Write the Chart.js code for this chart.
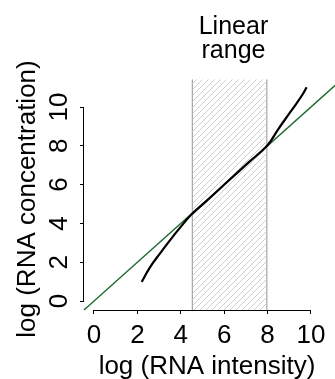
<!DOCTYPE html>
<html>
<head>
<meta charset="utf-8">
<script src="https://cdn.jsdelivr.net/npm/chart.js@4.4.1/dist/chart.umd.min.js"></script>
<style>
html,body{margin:0;padding:0;background:#fff;}
#wrap{width:335px;height:379px;position:relative;}
</style>
</head>
<body>
<div id="wrap"><canvas id="c"></canvas></div>
<script>
// ---- data ----
const xTicks = [0, 2, 4, 6, 8, 10];
const yTicks = [0, 2, 4, 6, 8, 10];
const curveX = [2.2, 2.58, 3.04, 3.5, 3.96, 4.5, 5.18, 6.16, 7.14, 8.0, 8.49, 8.95, 9.34, 9.65, 9.8];
const curveY = [0.99, 1.74, 2.45, 3.13, 3.77, 4.47, 5.15, 6.16, 7.16, 8.03, 8.85, 9.58, 10.19, 10.71, 11.02];
const refLineX = [-0.46, 11.3];
const refLineY = [-0.46, 11.3];
const rangeX = [4.5, 8];
const rangeY = [-0.46, 11.43];
const rangeLabel = ['Linear', 'range'];
const rangeLabelX = 6.43;
const xTitle = 'log (RNA intensity)';
const yTitle = 'log (RNA concentration)';
const xLimits = [-0.46, 10.88];
const yLimits = [-0.46, 10.98];

const FONT = 'Liberation Sans, Arial, Helvetica, sans-serif';

function hatchPattern() {
  const c = document.createElement('canvas');
  c.width = 6; c.height = 6;
  const g = c.getContext('2d');
  g.strokeStyle = '#c8c8c8';
  g.lineWidth = 0.9;
  g.beginPath();
  g.moveTo(0, 6); g.lineTo(6, 0);
  g.moveTo(-1, 1); g.lineTo(1, -1);
  g.moveTo(5, 7); g.lineTo(7, 5);
  g.stroke();
  return g.createPattern(c, 'repeat');
}

const rAxes = {
  id: 'rAxes',
  afterDraw(chart) {
    const {ctx, scales: {x, y}, chartArea: a} = chart;
    ctx.save();
    ctx.strokeStyle = '#000';
    ctx.lineWidth = 1;
    ctx.beginPath();
    const x0 = Math.round(x.getPixelForValue(xTicks[0]) - 0.5);
    const x1 = Math.round(x.getPixelForValue(xTicks[xTicks.length - 1]) - 0.5) + 1;
    const yb = Math.round(a.bottom) + 0.5;
    ctx.moveTo(x0, yb); ctx.lineTo(x1, yb);
    const y0 = Math.round(y.getPixelForValue(yTicks[0]) - 0.5) + 1;
    const y1 = Math.round(y.getPixelForValue(yTicks[yTicks.length - 1]) - 0.5);
    const xl = Math.round(a.left) - 0.5;
    ctx.moveTo(xl, y0); ctx.lineTo(xl, y1);
    ctx.stroke();
    // range label
    ctx.fillStyle = '#000';
    ctx.font = '25px ' + FONT;
    ctx.textAlign = 'center';
    ctx.textBaseline = 'alphabetic';
    const lx = x.getPixelForValue(rangeLabelX);
    const top = y.getPixelForValue(rangeY[1]);
    ctx.fillText(rangeLabel[0], lx, top - 45);
    ctx.fillText(rangeLabel[1], lx, top - 21);
    ctx.restore();
  }
};

const tickFont = {family: FONT, size: 26};

new Chart(document.getElementById('c'), {
  type: 'line',
  data: {
    datasets: [
      {
        label: 'calibration',
        data: curveX.map((v, i) => ({x: v, y: curveY[i]})),
        borderColor: '#000',
        borderWidth: 2.2,
        pointRadius: 0,
        tension: 0.4,
        fill: false,
        clip: false
      },
      {
        label: 'identity',
        data: refLineX.map((v, i) => ({x: v, y: refLineY[i]})),
        borderColor: '#1f6b30',
        borderWidth: 1.4,
        pointRadius: 0,
        fill: false,
        clip: false
      },
      {
        type: 'bar',
        label: 'linear range',
        data: [{x: (rangeX[0] + rangeX[1]) / 2, y: [rangeY[0], rangeY[1]]}],
        backgroundColor: hatchPattern(),
        borderColor: '#6e6e6e',
        borderWidth: {left: 1, right: 1, top: 0, bottom: 0},
        borderSkipped: false,
        inflateAmount: 0,
        barThickness: (ctx) => {
          const s = ctx.chart.scales && ctx.chart.scales.x;
          if (!s) return undefined;
          const w = s.getPixelForValue(rangeX[1]) - s.getPixelForValue(rangeX[0]);
          return isFinite(w) && w > 0 ? w : undefined;
        },
        clip: false
      }
    ]
  },
  options: {
    responsive: true,
    maintainAspectRatio: false,
    devicePixelRatio: 1,
    animation: false,
    events: [],
    layout: {padding: {top: 88, right: 5, bottom: 0, left: 0}},
    plugins: {legend: {display: false}, tooltip: {enabled: false}},
    scales: {
      x: {
        type: 'linear',
        min: xLimits[0],
        max: xLimits[1],
        offset: false,
        afterBuildTicks: (s) => { s.ticks = xTicks.map(v => ({value: v})); },
        afterFit: (s) => { s.height = 69; },
        border: {display: false},
        grid: {drawOnChartArea: false, drawTicks: true, tickLength: 4, color: '#000', lineWidth: 1, offset: false},
        ticks: {font: tickFont, color: '#000', padding: 6, maxRotation: 0, minRotation: 0, autoSkip: false,
                callback: (v) => String(v)},
        title: {display: true, text: xTitle, font: {family: FONT, size: 26}, color: '#000', padding: {top: 0, bottom: -3}}
      },
      y: {
        type: 'linear',
        min: yLimits[0],
        max: yLimits[1],
        afterBuildTicks: (s) => { s.ticks = yTicks.map(v => ({value: v})); },
        afterFit: (s) => { s.width = 84; },
        border: {display: false},
        grid: {drawOnChartArea: false, drawTicks: true, tickLength: 4, color: '#000', lineWidth: 1},
        ticks: {font: tickFont, color: '#000', padding: 5.5, minRotation: 90, maxRotation: 90, autoSkip: false,
                crossAlign: 'center', callback: (v) => String(v)},
        title: {display: true, text: yTitle, font: {family: FONT, size: 26}, color: '#000', padding: {top: 12, bottom: 0}}
      }
    }
  },
  plugins: [rAxes]
});
</script>
</body>
</html>
